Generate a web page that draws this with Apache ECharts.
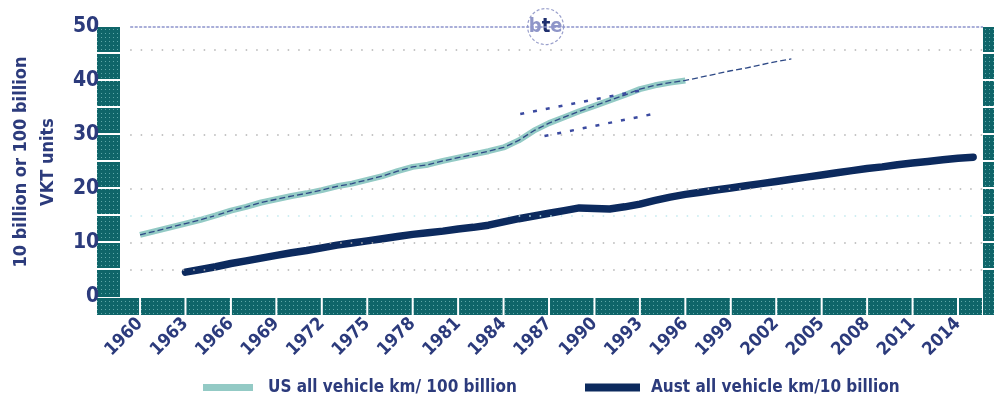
<!DOCTYPE html>
<html>
<head>
<meta charset="utf-8">
<script src="https://cdn.jsdelivr.net/npm/echarts@6/dist/echarts.min.js"></script>
<style>
  html, body { margin: 0; padding: 0; background: #fff; }
  #chart { width: 994px; height: 401px; }
</style>
</head>
<body>
<div id="chart"></div>
<script>
// x tick labels (every third year)
const xTickYears = [1960, 1963, 1966, 1969, 1972, 1975, 1978, 1981, 1984, 1987, 1990, 1993, 1996, 1999, 2002, 2005, 2008, 2011, 2014];

// US all vehicle km / 100 billion, 1960-1996
const usStartYear = 1960;
const usValues = [11.5, 12.2, 12.9, 13.6, 14.3, 15.1, 16.0, 16.7, 17.5, 18.1, 18.7, 19.2, 19.8, 20.5, 21.0, 21.7, 22.4, 23.3, 24.1, 24.5,
  25.2, 25.8, 26.4, 27.0, 27.7, 29.0, 30.8, 32.2, 33.3, 34.4, 35.4, 36.4, 37.4, 38.5, 39.2, 39.7, 40.1];
// US projection, 1997-2003
const usProjStartYear = 1997;
const usProjValues = [40.7, 41.3, 41.9, 42.4, 43.0, 43.6, 44.1];

// dashed trend lines around the late-80s surge
const upperTrend = [[1985.1, 33.9], [1993.1, 38.3]];
const lowerTrend = [[1986.7, 29.8], [1993.9, 33.9]];

// Aust all vehicle km / 10 billion, 1963-2015
const austStartYear = 1963;
const austValues = [4.6, 5.1, 5.6, 6.2, 6.7, 7.2, 7.7, 8.2, 8.6, 9.1, 9.6, 10.0, 10.4, 10.8, 11.2, 11.6, 11.9, 12.2, 12.6, 12.9,
  13.3, 13.9, 14.5, 15.0, 15.5, 16.0, 16.5, 16.4, 16.3, 16.7, 17.2, 17.9, 18.5, 19.0, 19.4, 19.8, 20.2, 20.6, 21.0, 21.4,
  21.8, 22.2, 22.6, 23.0, 23.4, 23.8, 24.1, 24.5, 24.8, 25.1, 25.4, 25.7, 25.9];

// dotted horizontal guide lines
const greyGuides = [45.7, 30, 20, 10, 5];
const cyanGuides = [15];

const navy = "#2c3b7c";
const font = "'Liberation Sans Narrow', 'DejaVu Sans Condensed', sans-serif";

function pairs(start, vals) {
  return vals.map((v, i) => [start + i, v]);
}

const usData = pairs(usStartYear, usValues);
const usLine = usData.concat(pairs(usProjStartYear, usProjValues));
const austData = pairs(austStartYear, austValues);

const chart = echarts.init(document.getElementById("chart"));

const guideLines = greyGuides
  .map((v) => ({ yAxis: v, lineStyle: { color: "#b3b3b3", width: 1.5, type: [1.5, 9] } }))
  .concat(cyanGuides.map((v) => ({ yAxis: v, lineStyle: { color: "#bfe8ee", width: 1.5, type: [1.5, 9] } })))
  .concat([{ yAxis: 50, lineStyle: { color: "#8d94cc", width: 1.5, type: [3, 1.5] } }]);

const option = {
  animation: false,
  grid: { left: 120, right: 11, top: 27, bottom: 104 },
  xAxis: {
    type: "value",
    min: 1959.35,
    max: 2015.65,
    axisLine: { show: false },
    axisTick: { show: false },
    splitLine: { show: false },
    axisLabel: {
      customValues: xTickYears,
      formatter: (v) => String(v),
      rotate: 45,
      margin: 24,
      color: navy,
      fontFamily: font,
      fontWeight: "bold",
      fontSize: 18,
    },
  },
  yAxis: {
    type: "value",
    min: 0,
    max: 50,
    interval: 10,
    axisLine: { show: false },
    axisTick: { show: false },
    splitLine: { show: false },
    axisLabel: {
      margin: 31,
      color: navy,
      fontFamily: font,
      fontWeight: "bold",
      fontSize: 21,
    },
    name: "10 billion or 100 billion\nVKT units",
    nameLocation: "middle",
    nameRotate: 90,
    nameGap: 62,
    nameTextStyle: {
      color: navy,
      fontFamily: font,
      fontWeight: "bold",
      fontSize: 18,
      lineHeight: 27,
    },
  },
  legend: [
    {
      data: ["US all vehicle km/ 100 billion"],
      left: 198,
      top: 374,
      icon: "rect",
      itemWidth: 50,
      itemHeight: 7,
      textStyle: { color: navy, fontFamily: font, fontWeight: "bold", fontSize: 17, padding: [0, 0, 0, 10] },
    },
    {
      data: ["Aust all vehicle km/10 billion"],
      left: 580,
      top: 374,
      icon: "rect",
      itemWidth: 55,
      itemHeight: 8,
      textStyle: { color: navy, fontFamily: font, fontWeight: "bold", fontSize: 17, padding: [0, 0, 0, 6] },
    },
  ],
  series: [
    {
      name: "US all vehicle km/ 100 billion",
      type: "line",
      data: usData,
      showSymbol: false,
      z: 2,
      color: "#93cac5",
      lineStyle: { color: "#93cac5", width: 6 },
      markLine: {
        silent: true,
        symbol: "none",
        label: { show: false },
        data: guideLines,
      },
    },
    {
      name: "US trend",
      type: "line",
      data: usLine,
      showSymbol: false,
      z: 3,
      lineStyle: { color: "#2f4a86", width: 1.3, type: [6, 3] },
    },
    {
      name: "upper",
      type: "line",
      data: upperTrend,
      showSymbol: false,
      z: 3,
      lineStyle: { color: "#3b4aa0", width: 2.5, type: [4, 9] },
    },
    {
      name: "lower",
      type: "line",
      data: lowerTrend,
      showSymbol: false,
      z: 3,
      lineStyle: { color: "#3b4aa0", width: 2.5, type: [4, 9] },
    },
    {
      name: "Aust all vehicle km/10 billion",
      type: "line",
      data: austData,
      showSymbol: false,
      z: 4,
      color: "#0c2a5e",
      lineStyle: { color: "#0c2a5e", width: 7.5, cap: "round" },
    },
  ],
};

chart.setOption(option);

// teal dotted frame around the plot, positioned from the axis scales
const pc = document.createElement("canvas");
pc.width = 4;
pc.height = 4;
const pctx = pc.getContext("2d");
pctx.fillStyle = "#0f6569";
pctx.fillRect(0, 0, 4, 4);
pctx.fillStyle = "#5ea7a8";
pctx.fillRect(1, 1, 1, 1);
const tealFill = { image: pc, repeat: "repeat" };

function px(x, y) {
  return chart.convertToPixel({ gridIndex: 0 }, [x, y]);
}

const graphics = [];
const bottomY = px(1960, 0)[1];
const barBottom = bottomY + 18;

// left and right columns, cut every 5 units
for (let v = 50; v > 0; v -= 5) {
  const y1 = px(1960, v)[1];
  const y2 = v === 5 ? bottomY : px(1960, v - 5)[1] - 2;
  graphics.push({ type: "rect", shape: { x: 97, y: y1, width: 23, height: y2 - y1 }, style: { fill: tealFill } });
  graphics.push({ type: "rect", shape: { x: 983, y: y1, width: 11, height: (v === 5 ? barBottom : y2) - y1 }, style: { fill: tealFill } });
}
// bottom row, cut at every labelled year
const cuts = [97].concat(xTickYears.map((yr) => px(yr, 0)[0])).concat([983]);
for (let i = 0; i < cuts.length - 1; i++) {
  const x1 = i === 0 ? cuts[i] : cuts[i] + 1;
  const x2 = cuts[i + 1] - 1;
  graphics.push({ type: "rect", shape: { x: x1, y: bottomY + 1, width: x2 - x1, height: 17 }, style: { fill: tealFill } });
}

// bte logo on the top border
graphics.push({
  type: "group",
  left: 527,
  top: 8,
  children: [
    { type: "circle", shape: { cx: 22, cy: 19, r: 18 }, style: { fill: "#fff", stroke: "#9aa0cc", lineWidth: 1.2, lineDash: [3, 2] } },
    {
      type: "text",
      style: {
        x: 22,
        y: 19,
        text: "{a|b}{t|t}{a|e}",
        align: "center",
        verticalAlign: "middle",
        rich: {
          a: { fill: "#8f96c8", font: "bold 20px " + font },
          t: { fill: "#1f2f6e", font: "bold 20px " + font },
        },
      },
    },
  ],
});

chart.setOption({ graphic: graphics });
</script>
</body>
</html>
